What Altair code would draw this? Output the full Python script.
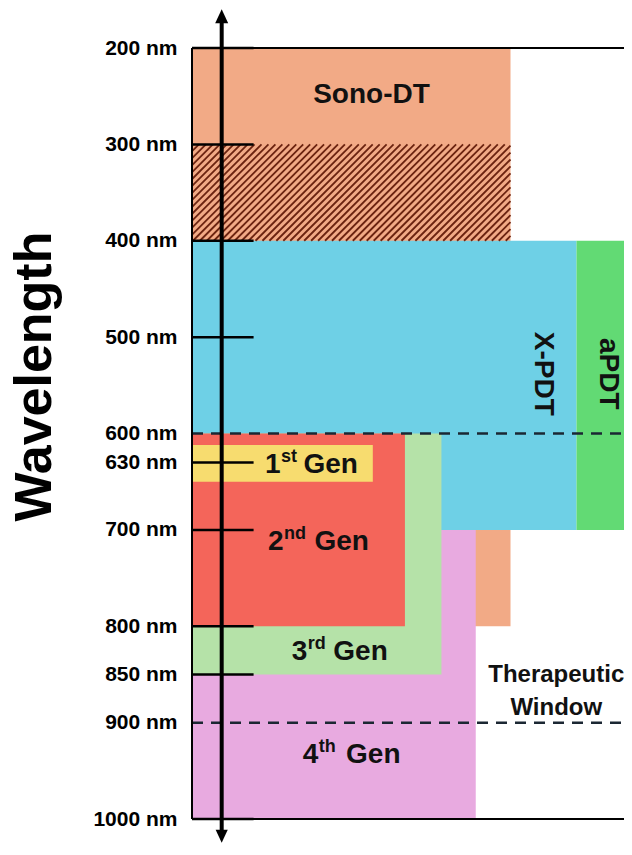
import altair as alt
import pandas as pd

# ---------------- data ----------------
# x positions are % of the panel width (the panel runs on past the right edge of the picture)
region_names = ["Sono-DT", "X-PDT", "aPDT", "4th Gen", "3rd Gen", "2nd Gen", "1st Gen"]
region_x_start = [0.0, 0.0, 87.4, 0.0, 0.0, 0.0, 0.0]
region_x_end = [72.4, 87.4, 100.0, 64.5, 56.7, 48.4, 41.1]
region_wl_start = [200, 400, 400, 700, 600, 600, 612]          # nm
region_wl_end = [800, 700, 700, 1000, 850, 800, 650]
region_colors = ["#F2AA86", "#6ED0E6", "#62DA74", "#E8AAE0", "#B5E2A8", "#F4655A", "#F7DC6F"]

hatch_wl_start = 300
hatch_wl_end = 400
hatch_x_end = 72.4

tick_values = [200, 300, 400, 500, 600, 630, 700, 800, 850, 900, 1000]
short_tick_values = [200, 300, 400, 500, 630, 700, 800, 850, 1000]
dashed_values = [600, 900]

gen_numbers = ["1", "2", "3", "4"]
gen_sups = ["st", "nd", "rd", "th"]
gen_wl = [631, 711, 825, 932]
gen_x_start = [16.6, 17.3, 22.7, 25.2]
gen_x_end = [37.7, 40.2, 44.5, 47.4]

name_labels = ["Sono-DT", "X-PDT", "aPDT"]
name_x = [40.8, 79.8, 94.5]
name_wl = [249, 538, 538]
name_angle = [0, 90, 90]

window_lines = ["Therapeutic", "Window"]
window_x = [82.8, 82.8]
window_wl = [851, 885]

arrow_x = 6.75
arrow_wl = [172, 1012]
arrow_head_wl = [167, 1018]

FONT = "Liberation Sans"
VISIBLE_MAX = 98.2   # part of the panel width that fits in the window

# ---------------- scales / axis ----------------
xs = alt.Scale(domain=[0, VISIBLE_MAX], nice=False, zero=False)
ys = alt.Scale(domain=[200, 1000], reverse=True, nice=False, zero=False)
yaxis = alt.Axis(
    values=tick_values, labelExpr="datum.value + ' nm'",
    labelFont=FONT, labelFontSize=21, labelFontWeight="bold", labelColor="#000",
    labelPadding=15, labelOverlap=False, labelFlush=False,
    ticks=False, domain=False, grid=False,
    title="Wavelength", titleFont=FONT, titleFontSize=52, titleFontWeight="bold",
    titleColor="#000", titleAngle=270, titleAlign="center", titleBaseline="middle",
    titleX=-158, titleY=328,
)


def X(f):
    return alt.X(f, type="quantitative", scale=xs, axis=None)


def Y(f):
    return alt.Y(f, type="quantitative", scale=ys, axis=yaxis)


# ---------------- layers ----------------
regions = pd.DataFrame({
    "name": region_names, "x0": region_x_start, "x1": region_x_end,
    "wl0": region_wl_start, "wl1": region_wl_end, "order": list(range(len(region_names))),
})
rects = alt.Chart(regions).mark_rect(clip=True).encode(
    x=X("x0"), x2="x1", y=Y("wl0"), y2="wl1",
    color=alt.Color("name:N", scale=alt.Scale(domain=region_names, range=region_colors), legend=None),
    order="order:Q",
)

hatch_len = (hatch_wl_end - hatch_wl_start) * (771 / 800) / 4.4   # 45 degree stripes in % units
hatch = alt.Chart(alt.sequence(-hatch_len, hatch_x_end, 1.58, as_="x0")).transform_calculate(
    x1=f"min(datum.x0 + {hatch_len}, {hatch_x_end})",
    wl0=f"{hatch_wl_end}",
    wl1=f"{hatch_wl_end} - (min(datum.x0 + {hatch_len}, {hatch_x_end}) - datum.x0) / {hatch_len} * {hatch_wl_end - hatch_wl_start}",
).mark_rule(clip=True, color="#6B2310", strokeWidth=1.8).encode(
    x=X("x0"), x2="x1", y=Y("wl0"), y2="wl1"
)

dashed = alt.Chart(pd.DataFrame({"wl": dashed_values, "x0": 0, "x1": 100})).mark_rule(
    strokeDash=[11, 8], strokeWidth=2.5, color="#1B2733", clip=True
).encode(x=X("x0"), x2="x1", y=Y("wl"))

borders = alt.Chart(pd.DataFrame({
    "x0": [0, 0, 0], "x1": [100, 100, 0], "wl0": [200, 1000, 200], "wl1": [200, 1000, 1000]
})).mark_rule(strokeWidth=2, color="#000").encode(x=X("x0"), x2="x1", y=Y("wl0"), y2="wl1")

ticks = alt.Chart(pd.DataFrame({"wl": short_tick_values, "x0": 0, "x1": 14})).mark_rule(
    strokeWidth=2.5, color="#000"
).encode(x=X("x0"), x2="x1", y=Y("wl"))

shaft = alt.Chart(pd.DataFrame({"x": [arrow_x], "wl0": [arrow_wl[0]], "wl1": [arrow_wl[1]]})).mark_rule(
    strokeWidth=4, color="#000"
).encode(x=X("x"), y=Y("wl0"), y2="wl1")

head_up = alt.Chart(pd.DataFrame({"x": [arrow_x], "wl": [arrow_head_wl[0]]})).mark_point(
    shape="M0,-1L-0.93,1L0.93,1Z", size=196, filled=True, color="#000", opacity=1
).encode(x=X("x"), y=Y("wl"))
head_down = alt.Chart(pd.DataFrame({"x": [arrow_x], "wl": [arrow_head_wl[1]]})).mark_point(
    shape="M0,1L-0.93,-1L0.93,-1Z", size=169, filled=True, color="#000", opacity=1
).encode(x=X("x"), y=Y("wl"))

names = alt.Chart(pd.DataFrame({"t": name_labels, "x": name_x, "wl": name_wl, "a": name_angle})).mark_text(
    font=FONT, fontSize=28, fontWeight="bold", color="#111", align="center", baseline="middle"
).encode(x=X("x"), y=Y("wl"), text="t:N", angle=alt.Angle("a:Q", scale=None))

gens = pd.DataFrame({"n": gen_numbers, "s": gen_sups, "wl": gen_wl, "xs": gen_x_start, "xe": gen_x_end})
gen_num = alt.Chart(gens).mark_text(
    font=FONT, fontSize=28, fontWeight="bold", color="#111", align="left", baseline="alphabetic", dy=10
).encode(x=X("xs"), y=Y("wl"), text="n:N")
gen_sup = alt.Chart(gens).mark_text(
    font=FONT, fontSize=18, fontWeight="bold", color="#111", align="left", baseline="alphabetic", dx=16, dy=-1
).encode(x=X("xs"), y=Y("wl"), text="s:N")
gen_word = alt.Chart(gens).mark_text(
    font=FONT, fontSize=28, fontWeight="bold", color="#111", align="right", baseline="alphabetic", dy=10
).encode(x=X("xe"), y=Y("wl"), text=alt.value("Gen"))

window = alt.Chart(pd.DataFrame({"t": window_lines, "x": window_x, "wl": window_wl})).mark_text(
    font=FONT, fontSize=24, fontWeight="bold", color="#111", align="center", baseline="middle"
).encode(x=X("x"), y=Y("wl"), text="t:N")

chart = alt.layer(
    rects, hatch, dashed, borders, ticks, shaft, head_up, head_down,
    names, gen_num, gen_sup, gen_word, window
).properties(
    width=432, height=771,
    autosize=alt.AutoSizeParams(type="none"),
    padding={"left": 184, "top": 40, "right": 0, "bottom": 24},
    background="white",
).configure_view(stroke="transparent")

chart.save("out.html", embed_options={"renderer": "svg", "actions": False})
